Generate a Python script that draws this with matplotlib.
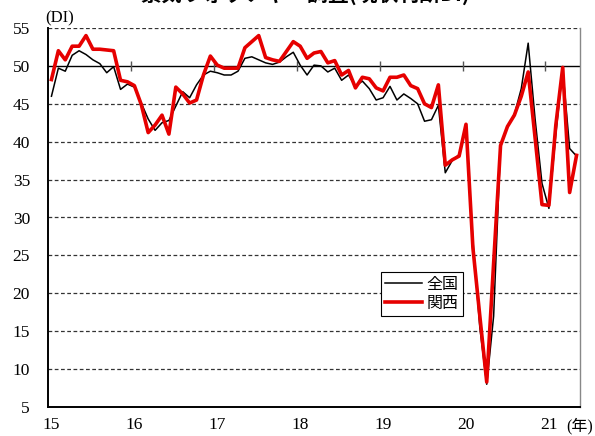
import numpy as np
import matplotlib as mpl
import matplotlib.pyplot as plt

# months from Jan 2015 to May 2021
zenkoku = [46.0, 49.7, 49.3, 51.4, 52.0, 51.5, 50.8, 50.3, 49.1, 49.9, 46.9, 47.6,
           47.2, 45.1, 43.0, 41.5, 42.5, 42.8, 44.7, 46.6, 45.8, 47.5, 48.8, 49.3,
           49.1, 48.8, 48.8, 49.3, 51.0, 51.2, 50.8, 50.4, 50.2, 50.5, 51.2, 51.8,
           50.1, 48.8, 50.1, 50.0, 49.2, 49.7, 48.1, 48.8, 47.3, 48.0, 47.0, 45.5,
           45.8, 47.3, 45.5, 46.3, 45.7, 45.0, 42.7, 42.9, 44.8, 35.9, 37.5, 38.3,
           41.9, 27.0, 15.5, 8.0, 17.0, 39.5, 42.0, 43.6, 47.0, 53.0, 43.0, 34.5,
           31.2, 41.0, 49.6, 39.1, 38.1]
kansai = [48.2, 52.0, 50.8, 52.6, 52.6, 54.0, 52.2, 52.2, 52.1, 52.0, 48.1, 47.9,
          47.4, 44.9, 41.2, 42.2, 43.5, 41.0, 47.2, 46.3, 45.1, 45.5, 48.8, 51.3,
          50.1, 49.7, 49.7, 49.7, 52.4, 53.2, 54.0, 51.1, 50.8, 50.6, 51.9, 53.2,
          52.6, 51.0, 51.7, 51.9, 50.4, 50.7, 48.8, 49.4, 47.1, 48.5, 48.3, 47.1,
          46.7, 48.5, 48.5, 48.8, 47.4, 47.0, 45.0, 44.5, 47.5, 36.9, 37.6, 38.1,
          42.3, 26.0, 17.0, 8.3, 24.0, 39.5, 42.0, 43.5, 46.0, 49.2, 40.5, 31.7,
          31.6, 42.2, 49.8, 33.3, 38.2]
year_labels = ['15', '16', '17', '18', '19', '20', '21']
yticks = [5, 10, 15, 20, 25, 30, 35, 40, 45, 50, 55]

mpl.rcParams['font.family'] = ['Liberation Serif', 'Noto Sans CJK JP']
mpl.rcParams['font.size'] = 12
jp = ['Noto Sans CJK JP', 'DejaVu Sans']

fig = plt.figure(figsize=(5.95, 4.36), dpi=100)
ax = fig.add_axes([48 / 595, 1 - 407 / 436, 532 / 595, 379 / 436])

x = np.arange(len(zenkoku))
ax.set_xlim(-0.5, len(zenkoku) - 0.5)
ax.set_ylim(5, 55)

for v in yticks[1:-1]:
    if v != 50:
        ax.axhline(v, color='#333333', lw=0.9, ls=(0, (3, 2)), zorder=1)
ax.axhline(55, color='#333333', lw=0.9, ls=(0, (3, 2)), zorder=1)
ax.axhline(50, color='black', lw=1.0, zorder=1)
# tick marks crossing the 50 line at year boundaries
bounds = np.arange(12, len(zenkoku), 12) - 0.5
ax.vlines(bounds, 49.35, 50.65, color='#555555', lw=1.0, zorder=1)

ax.plot(x, zenkoku, color='black', lw=1.1, label='全国', zorder=3)
ax.plot(x, kansai, color='#e60000', lw=2.6, label='関西', zorder=4)

ax.set_yticks(yticks)
ax.set_xticks(np.arange(0, len(zenkoku), 12))
ax.set_xticklabels(year_labels)
ax.tick_params(axis='both', length=0, labelsize=12.5)
ax.tick_params(axis='y', pad=13)
ax.tick_params(axis='x', pad=7)

ax.spines['top'].set_visible(False)
ax.spines['left'].set_linewidth(1.4)
ax.spines['bottom'].set_linewidth(1.4)
ax.spines['right'].set_color('#888888')
ax.spines['right'].set_linewidth(1.0)

leg = ax.legend(loc='upper left', bbox_to_anchor=((381 - 48) / 532, (407 - 272) / 379),
                frameon=True, fancybox=False, edgecolor='black', framealpha=1,
                prop={'family': jp, 'size': 11.5}, handlelength=2.3,
                borderpad=0.25, labelspacing=0.1, handletextpad=0.3, borderaxespad=0)
leg.get_frame().set_linewidth(0.8)

fig.text(45 / 595, 1 - 18 / 436, '(DI)', ha='left', va='center', fontsize=12)
fig.text(566 / 595, 1 - 426 / 436, '(年)', ha='left', va='center', fontsize=11.5,
         family=['Liberation Serif', 'Noto Sans CJK JP'])
fig.text(305 / 595, 1 + 6 / 436, '景気ウォッチャー調査(現状判断DI)', ha='center',
         va='center', fontsize=15, fontweight='bold', family=jp)

fig.savefig('out.png')
